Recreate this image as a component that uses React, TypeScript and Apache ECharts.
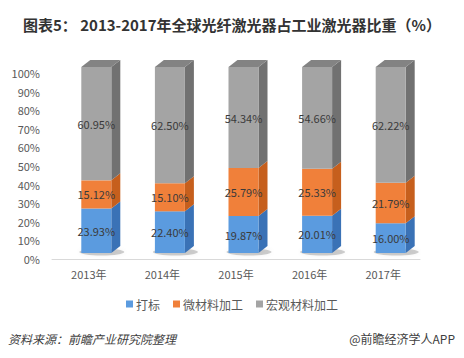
import React, { useEffect, useRef } from "react";
import * as echarts from "echarts";

const categories = ["2013年", "2014年", "2015年", "2016年", "2017年"];
const seriesNames = ["打标", "微材料加工", "宏观材料加工"];
const marking = [23.93, 22.4, 19.87, 20.01, 16.0];
const microProc = [15.12, 15.1, 25.79, 25.33, 21.79];
const macroProc = [60.95, 62.5, 54.34, 54.66, 62.22];
const yTicks = { min: 0, max: 100, interval: 10 };

const frontColors = ["#5b9bdf", "#f0803a", "#a4a4a4"];
const sideColors = ["#3a72b6", "#c65f1d", "#717171"];
const topColors = ["#4a86c8", "#d86c25", "#838383"];

const FONT = "'Noto Sans CJK SC', 'Noto Sans', sans-serif";

export default function App() {
  const ref = useRef<HTMLDivElement>(null);
  useEffect(() => {
    if (!ref.current) return;
    const chart = echarts.init(ref.current, undefined, { renderer: "svg" });
    const all = [marking, microProc, macroProc];
    const series = all.map((arr, s) => {
      const data = arr.map((v, i) => {
        let base = 0;
        for (let k = 0; k < s; k++) base += all[k][i];
        return [i, base, v];
      });
      const isTop = s === all.length - 1;
      return {
        type: "custom",
        name: seriesNames[s],
        itemStyle: { color: frontColors[s] },
        encode: { x: 0, y: [1, 2] },
        data,
        z: 2,
        renderItem: (params: any, api: any) => {
          const i = api.value(0);
          const base = api.value(1);
          const v = api.value(2);
          const p0 = api.coord([i, base]);
          const p1 = api.coord([i, base + v]);
          const shift = -6;
          const w = 30;
          const dx = 9;
          const dy = -7;
          const xl = p0[0] - 7.5;
          const y0 = p0[1] + shift;
          const y1 = p1[1] + shift;
          const children: any[] = [];
          if (s === 0) {
            children.push({
              type: "ellipse",
              shape: { cx: xl + (w + dx) / 2 + 1, cy: y0 - 1, rx: (w + dx) / 2 + 3, ry: 3.5 },
              style: { fill: "rgba(0,0,0,0.18)", shadowBlur: 4, shadowColor: "rgba(0,0,0,0.3)" },
              silent: true,
            });
          }
          children.push({
            type: "polygon",
            shape: { points: [[xl + w, y0], [xl + w + dx, y0 + dy], [xl + w + dx, y1 + dy], [xl + w, y1]] },
            style: { fill: sideColors[s] },
          });
          children.push({
            type: "rect",
            shape: { x: xl, y: y1, width: w, height: y0 - y1 },
            style: { fill: frontColors[s] },
          });
          if (isTop) {
            children.push({
              type: "polygon",
              shape: { points: [[xl, y1], [xl + dx, y1 + dy], [xl + w + dx, y1 + dy], [xl + w, y1]] },
              style: { fill: topColors[s] },
            });
          }
          children.push({
            type: "text",
            style: {
              x: xl + w / 2,
              y: (y0 + y1) / 2,
              text: v.toFixed(2) + "%",
              align: "center",
              verticalAlign: "middle",
              fill: "#3a3a3a",
              font: `11px ${FONT}`,
            },
            z2: 10,
          });
          return { type: "group", children };
        },
      };
    });

    chart.setOption({
      animation: false,
      backgroundColor: "#ffffff",
      title: {
        text: "图表5： 2013-2017年全球光纤激光器占工业激光器比重（%）",
        left: "center",
        top: 12,
        textStyle: { fontSize: 15, fontWeight: "bold", color: "#333333", fontFamily: FONT },
      },
      grid: { left: 52, right: 44, top: 73, bottom: 99 },
      legend: {
        data: seriesNames,
        bottom: 43,
        left: "center",
        icon: "rect",
        itemWidth: 7,
        itemHeight: 7,
        itemGap: 13,
        textStyle: { fontSize: 12, color: "#595959", fontFamily: FONT, padding: [0, 0, 0, -2] },
      },
      xAxis: {
        type: "category",
        data: categories,
        axisLine: { lineStyle: { color: "#d9d9d9" } },
        axisTick: { show: false },
        axisLabel: { color: "#595959", fontSize: 11, fontFamily: FONT, margin: 9 },
      },
      yAxis: {
        type: "value",
        min: yTicks.min,
        max: yTicks.max,
        interval: yTicks.interval,
        axisLine: { show: false },
        axisTick: { show: false },
        splitLine: { show: false },
        axisLabel: { formatter: "{value}%", color: "#595959", fontSize: 11, fontFamily: FONT, margin: 12 },
      },
      graphic: [
        {
          type: "text",
          left: 8,
          top: 332,
          style: {
            text: "资料来源：前瞻产业研究院整理",
            font: `italic 12px ${FONT}`,
            fill: "#404040",
          },
        },
        {
          type: "text",
          right: 9,
          top: 332,
          style: {
            text: "@前瞻经济学人APP",
            font: `12px ${FONT}`,
            fill: "#404040",
          },
        },
      ],
      series,
    });
    return () => chart.dispose();
  }, []);
  return <div ref={ref} style={{ width: 464, height: 358, position: "absolute", left: 0, top: 0 }} />;
}
